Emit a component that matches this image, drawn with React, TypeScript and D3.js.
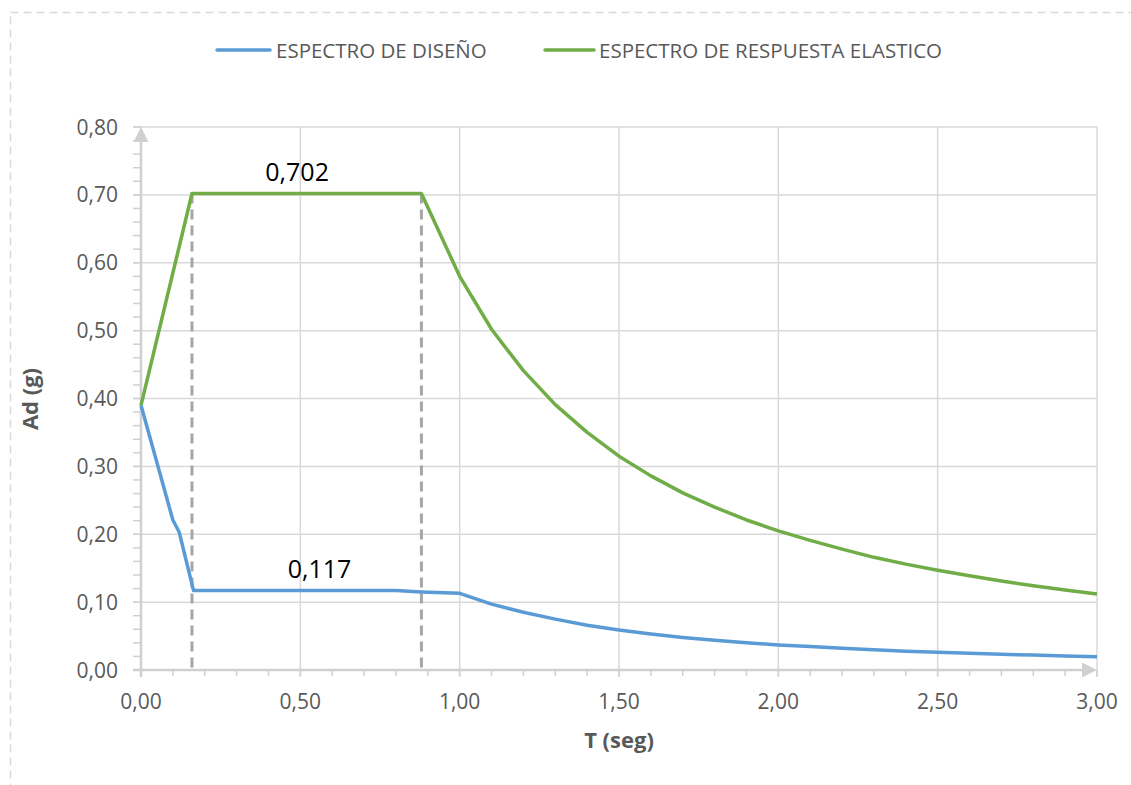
import React from 'react';
import * as d3 from 'd3';

// Periods (s) and spectral accelerations (g)
const elasticT = [0, 0.16, 0.88, 1.0, 1.1, 1.2, 1.3, 1.4, 1.5, 1.6, 1.7, 1.8, 1.9, 2.0, 2.1, 2.2, 2.3, 2.4, 2.5, 2.6, 2.7, 2.8, 2.9, 3.0];
const elasticA = [0.39, 0.702, 0.702, 0.58, 0.502, 0.441, 0.391, 0.35, 0.315, 0.286, 0.261, 0.24, 0.221, 0.205, 0.191, 0.178, 0.166, 0.156, 0.147, 0.139, 0.131, 0.124, 0.118, 0.112];

const designT = [0, 0.1, 0.12, 0.157, 0.165, 0.8, 0.88, 1.0, 1.1, 1.2, 1.3, 1.4, 1.5, 1.6, 1.7, 1.8, 1.9, 2.0, 2.1, 2.2, 2.3, 2.4, 2.5, 2.6, 2.7, 2.8, 2.9, 3.0];
const designA = [0.39, 0.221, 0.203, 0.132, 0.117, 0.117, 0.115, 0.113, 0.097, 0.085, 0.075, 0.066, 0.059, 0.053, 0.048, 0.044, 0.04, 0.037, 0.0345, 0.032, 0.0298, 0.0278, 0.026, 0.0245, 0.0232, 0.022, 0.0208, 0.0197];

const seriesNames = ['ESPECTRO DE DISEÑO', 'ESPECTRO DE RESPUESTA ELASTICO'];
const seriesColors = ['#5b9bd5', '#70ad47'];

const xTicks = [0, 0.5, 1.0, 1.5, 2.0, 2.5, 3.0];
const yTicks = [0, 0.1, 0.2, 0.3, 0.4, 0.5, 0.6, 0.7, 0.8];
const markerT = [0.16, 0.88];
const annotations = [
  { t: 0.49, a: 0.702, label: '0,702' },
  { t: 0.56, a: 0.117, label: '0,117' },
];

const locale = d3.formatLocale({ decimal: ',', thousands: '.', grouping: [3], currency: ['', ''] });
const fmt = locale.format('.2f');

const FONT = '"Open Sans", Lato, sans-serif';
const GRID = '#d9d9d9';
const AXIS = '#d0d0d0';
const TXT = '#595959';

export default function App() {
  const W = 1131, H = 785;
  const x = d3.scaleLinear().domain([0, 3]).range([141, 1097]);
  const y = d3.scaleLinear().domain([0, 0.8]).range([670, 127]);

  const line = d3.line<[number, number]>().x(d => x(d[0])).y(d => y(d[1]));
  const elastic = elasticT.map((t, i) => [t, elasticA[i]] as [number, number]);
  const design = designT.map((t, i) => [t, designA[i]] as [number, number]);

  const xMinor = d3.range(0, 31).map(i => i / 10);
  const yMinor = d3.range(0, 41).map(i => i / 50);

  const x0 = x(0), y0 = y(0);

  return (
    <svg width={W} height={H} style={{ position: 'absolute', left: 0, top: 0, background: '#fff' }} fontFamily={FONT}>
      <rect x={0} y={0} width={W} height={H} fill="#fff" />
      {/* dashed chart border */}
      <rect x={10.5} y={12.5} width={W + 20} height={H + 20} fill="none" stroke={GRID} strokeWidth={1.5} strokeDasharray="8,5" />

      {/* legend */}
      <g>
        <line x1={217} x2={270} y1={50} y2={50} stroke={seriesColors[0]} strokeWidth={3.5} strokeLinecap="round" />
        <text x={276} y={57.5} fontSize={20.5} fill={TXT}>{seriesNames[0]}</text>
        <line x1={545} x2={594} y1={50} y2={50} stroke={seriesColors[1]} strokeWidth={3.5} strokeLinecap="round" />
        <text x={599} y={57.5} fontSize={20.5} fill={TXT}>{seriesNames[1]}</text>
      </g>

      {/* gridlines */}
      {yTicks.filter(v => v > 0).map(v => (
        <line key={'gy' + v} x1={x0 - 8} x2={x(3)} y1={y(v)} y2={y(v)} stroke={GRID} strokeWidth={1.5} />
      ))}
      {xTicks.filter(v => v > 0).map(v => (
        <line key={'gx' + v} x1={x(v)} x2={x(v)} y1={y(0.8)} y2={y0 + 7} stroke={GRID} strokeWidth={1.5} />
      ))}

      {/* minor ticks */}
      {yMinor.map(v => (
        <line key={'my' + v} x1={x0 - 8} x2={x0} y1={y(v)} y2={y(v)} stroke={AXIS} strokeWidth={1.5} />
      ))}
      {xMinor.map(v => (
        <line key={'mx' + v} x1={x(v)} x2={x(v)} y1={y0} y2={y0 + 6} stroke={AXIS} strokeWidth={1.5} />
      ))}

      {/* axes with arrows */}
      <line x1={x0} x2={x0} y1={y0 + 7} y2={y(0.8) + 4} stroke={AXIS} strokeWidth={2.5} />
      <path d={`M${x0},${y(0.8)} L${x0 - 7.5},${y(0.8) + 15} L${x0 + 7.5},${y(0.8) + 15} Z`} fill={AXIS} />
      <line x1={x0 - 8} x2={x(3) - 4} y1={y0} y2={y0} stroke={AXIS} strokeWidth={2.5} />
      <path d={`M${x(3)},${y0} L${x(3) - 15},${y0 - 7.5} L${x(3) - 15},${y0 + 7.5} Z`} fill={AXIS} />

      {/* tick labels */}
      {yTicks.map(v => (
        <text key={'ly' + v} x={118} y={y(v) + 7.5} fontSize={21} fill={TXT} textAnchor="end">{fmt(v)}</text>
      ))}
      {xTicks.map(v => (
        <text key={'lx' + v} x={x(v)} y={709} fontSize={21} fill={TXT} textAnchor="middle">{fmt(v)}</text>
      ))}

      {/* axis titles */}
      <text x={619} y={748} fontSize={22} fontWeight="bold" fill={TXT} textAnchor="middle">T (seg)</text>
      <text transform={`translate(38,399) rotate(-90)`} fontSize={22} fontWeight="bold" fill={TXT} textAnchor="middle">Ad (g)</text>

      {/* dashed period markers */}
      {markerT.map(t => (
        <line key={'mk' + t} x1={x(t)} x2={x(t)} y1={y(0.702)} y2={y0 + 3} stroke="#a6a6a6" strokeWidth={3} strokeDasharray="10,6" />
      ))}

      {/* series */}
      <path d={line(elastic) || ''} fill="none" stroke={seriesColors[1]} strokeWidth={3.5} strokeLinejoin="round" />
      <path d={line(design) || ''} fill="none" stroke={seriesColors[0]} strokeWidth={3.5} strokeLinejoin="round" />

      {/* annotations */}
      {annotations.map(a => (
        <text key={a.label} x={x(a.t)} y={y(a.a) - 13} fontSize={25} fill="#000" textAnchor="middle">{a.label}</text>
      ))}
    </svg>
  );
}
